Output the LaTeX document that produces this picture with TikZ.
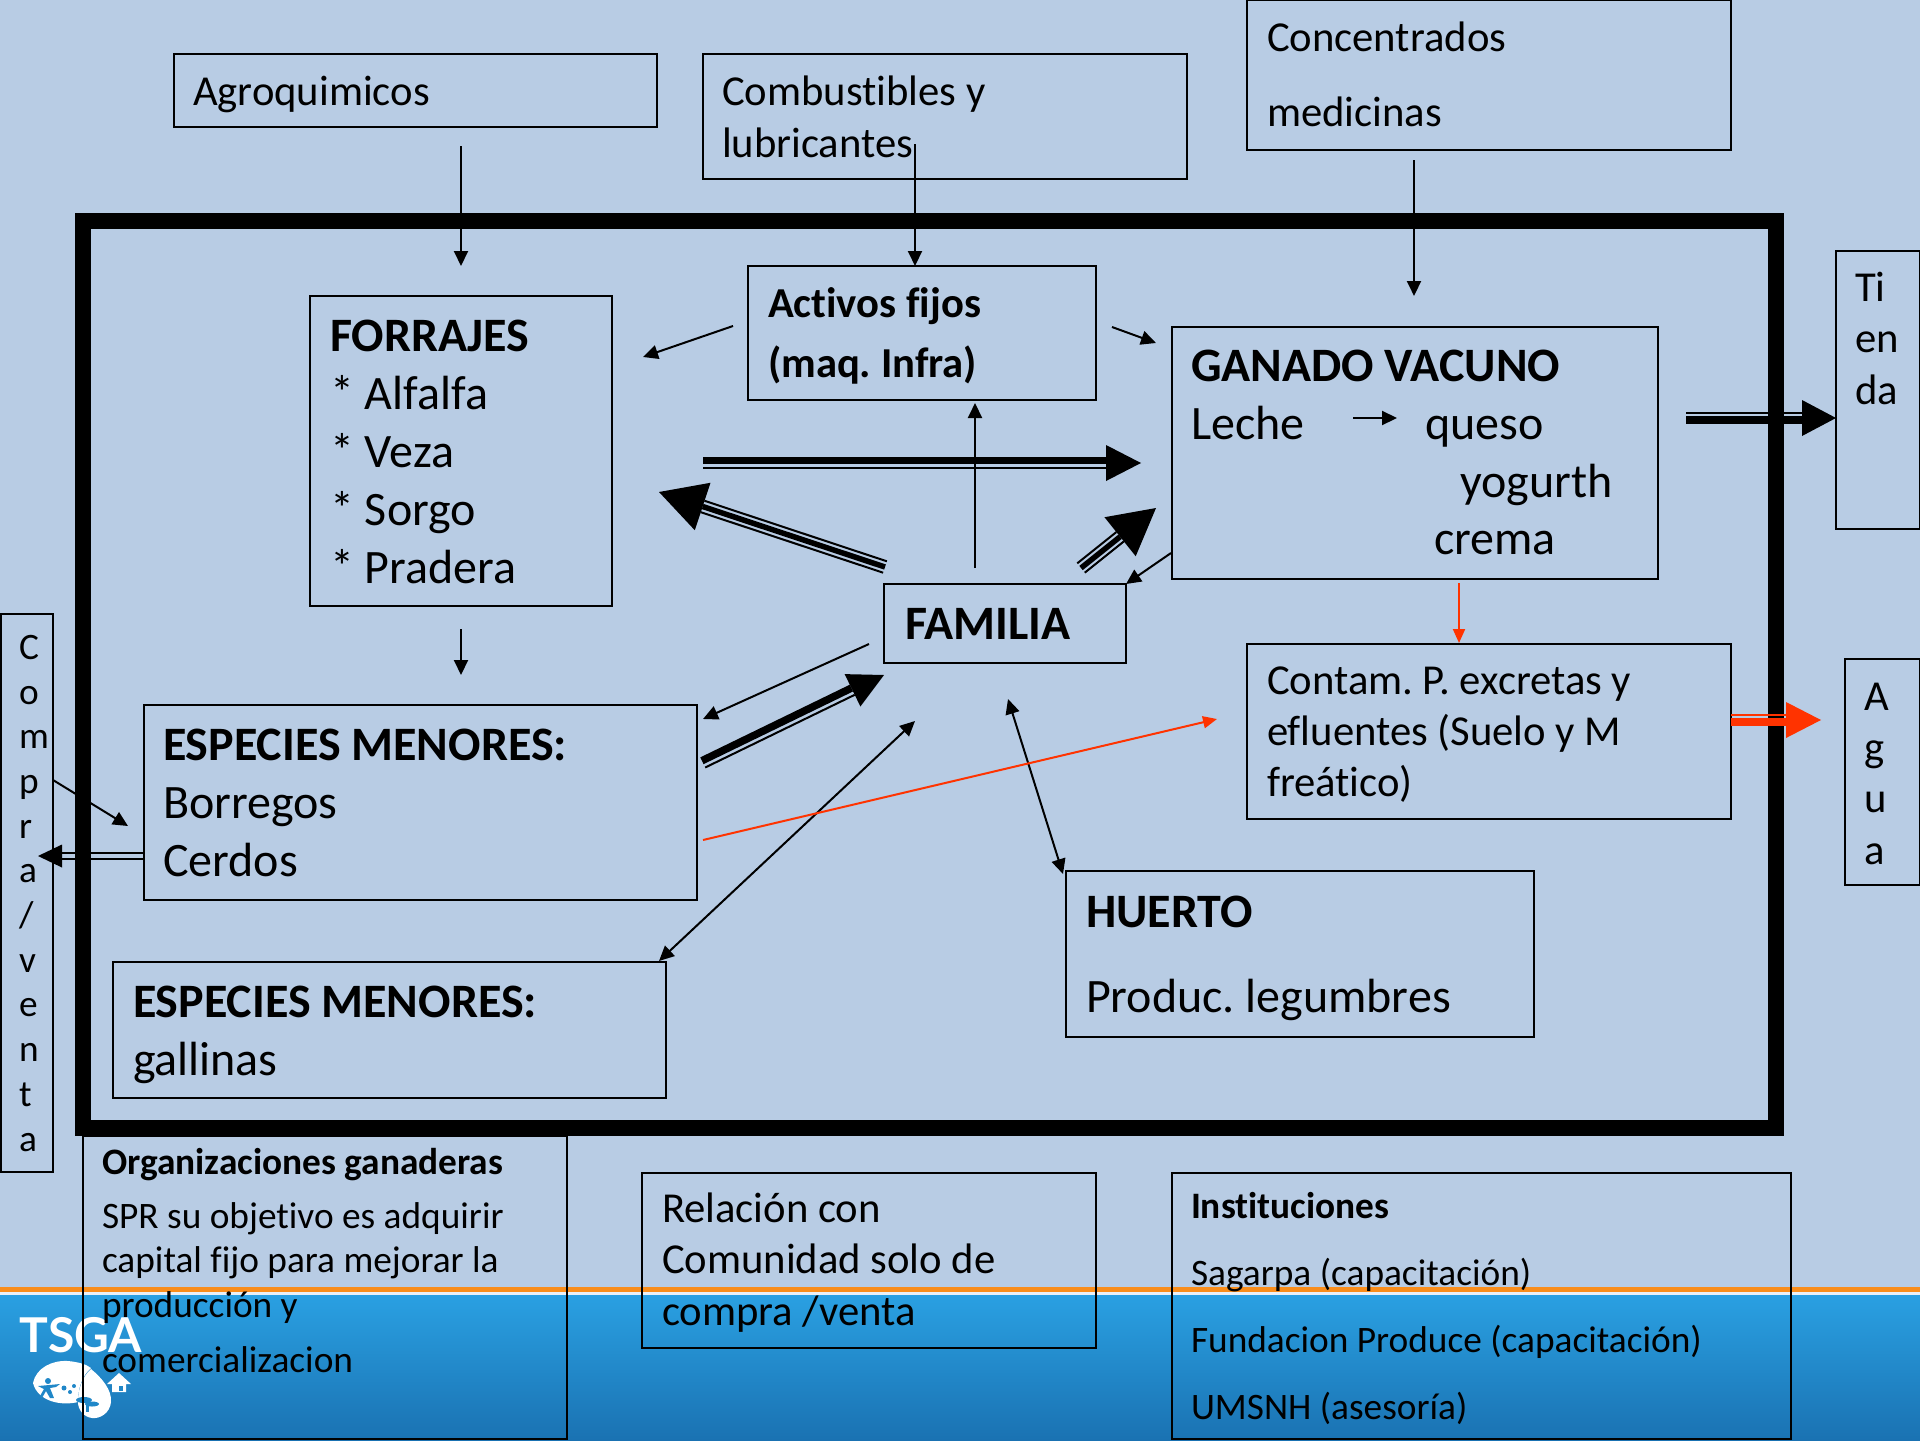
\documentclass[tikz,border=0pt]{standalone}
\usepackage{fontspec}
\setmainfont{Carlito}[Ligatures=NoCommon]
\newfontfamily\logofont{Lato}
\usetikzlibrary{arrows.meta,calc,fit}
\definecolor{slidebg}{HTML}{B8CCE4}
\definecolor{redline}{HTML}{FF3300}
\definecolor{orangeline}{HTML}{F98D1B}
\definecolor{bandtop}{HTML}{2AA0E2}
\definecolor{bandbot}{HTML}{1A72B2}
\definecolor{logocut}{HTML}{2087C8}
\tikzset{
  boxn/.style={draw=black,line width=1pt,inner sep=0pt,outer sep=0pt},
  txt/.style={inner sep=0pt,outer sep=0pt,anchor=base west,align=left,text=black,execute at begin node=\frenchspacing},
  thinarr/.style={line width=1pt,-{Triangle[length=7.5pt,width=7pt]}},
  botharr/.style={line width=1pt,{Triangle[length=7.5pt,width=7pt]}-{Triangle[length=7.5pt,width=7pt]}},
  redarr/.style={line width=1pt,draw=redline,-{Triangle[length=7pt,width=6pt]},redline},
  fxxiv/.style={font=\fontsize{24}{29}\selectfont},
  fxxi/.style={font=\fontsize{21.33}{25.6}\selectfont},
}
% from, to, colour, head length (pt), head half width (pt), list of offset/width (pt)
\newcommand\bigarrow[6]{%
  \coordinate (tmpB) at ($(#2)!#4pt!(#1)$);
  \foreach \o/\w in {#6}{%
    \draw[#3,line width=\w pt] ($(#1)!\o pt!90:(#2)$) -- ($(tmpB)!\o pt!-90:(#1)$);
  }
  \fill[#3] (#2) -- ($(tmpB)!#5pt!90:(#2)$) -- ($(tmpB)!#5pt!-90:(#2)$) -- cycle;
}
\newcommand\boxat[5]{\node[boxn,fit={(#2,#3)(#4,#5)}] (#1) {};}
\begin{document}
\begin{tikzpicture}[x=0.5pt,y=-0.5pt]
\useasboundingbox (0,0) rectangle (1920,1440);
\fill[slidebg] (0,0) rectangle (1920,1440);
% footer band
\shade[top color=bandtop,bottom color=bandbot] (0,1295) rectangle (1920,1440);
\fill[white!70!slidebg] (0,1292) rectangle (1920,1295);
\fill[orangeline] (0,1287) rectangle (1920,1292);
% logo
\node[inner sep=0pt,anchor=base west,text=white] (logotext) at (19,1352) {\logofont\bfseries\fontsize{24}{26}\selectfont TSGA};
\fill[white] (33,1383) .. controls (36,1368) and (52,1360) .. (68,1361) .. controls (78,1362) and (86,1364) .. (91,1368) .. controls (82,1376) and (78,1388) .. (78,1402) .. controls (62,1406) and (38,1402) .. (33,1383) -- cycle;
\fill[white] (91,1369) .. controls (102,1378) and (112,1390) .. (111,1402) .. controls (110,1413) and (100,1419) .. (92,1418) .. controls (84,1417) and (78,1410) .. (78,1402) .. controls (78,1388) and (83,1376) .. (91,1369) -- cycle;
\fill[white] (107,1384) -- (119,1373) -- (131,1384) -- (126,1384) -- (126,1392) -- (112,1392) -- (112,1384) -- cycle;
\fill[logocut] (119,1386) rectangle (123,1391);
\fill[logocut] (48,1381) circle (3) (38,1386) -- (60,1384) -- (56,1387) -- (50,1388) -- (54,1398) -- (50,1398) -- (46,1391) -- (42,1398) -- (40,1396) -- (44,1389) -- cycle;
\fill[logocut] (64,1388) circle (2.5) (70,1392) circle (2) (74,1386) circle (2);
\fill[logocut] (84,1400) ellipse [x radius=8,y radius=3];
\fill[logocut] (86,1400) rectangle (89,1412);
\fill[logocut] (92,1404) ellipse [x radius=7,y radius=2.5];

% free ends of the connectors
\coordinate (a1s) at (461,146);  \coordinate (a1e) at (461,266);
\coordinate (a2s) at (915,144);  \coordinate (a2e) at (915,266);
\coordinate (a3s) at (1414,160); \coordinate (a3e) at (1414,296);
\coordinate (a4s) at (733,326);  \coordinate (a4e) at (643,357);
\coordinate (a5s) at (1112,327); \coordinate (a5e) at (1156,343);
\coordinate (a6s) at (975,568);  \coordinate (a6e) at (975,403);
\coordinate (a7s) at (869,644);  \coordinate (a7e) at (703,719);
\coordinate (a8s) at (1171,553);
\coordinate (a9s) at (915,721);  \coordinate (a9e) at (659,961);
\coordinate (a10s) at (1008,699);\coordinate (a10e) at (1063,874);
\coordinate (a11s) at (461,629); \coordinate (a11e) at (461,675);
\coordinate (a12s) at (53,780);  \coordinate (a12e) at (128,826);
\coordinate (leches) at (1353,418); \coordinate (lechee) at (1397,418);
\coordinate (r1s) at (1459,583); \coordinate (r1e) at (1459,643);
\coordinate (r2s) at (703,840);  \coordinate (r2e) at (1217,719);
\coordinate (d1s) at (703,463);  \coordinate (d1e) at (1141,463);
\coordinate (d2s) at (885,567);  \coordinate (d2e) at (659,492);
\coordinate (d3s) at (1081,568); \coordinate (d3e) at (1156,508);
\coordinate (d4s) at (703,763);  \coordinate (d4e) at (884,675);
\coordinate (d5s) at (1686,418); \coordinate (d5e) at (1836,418);
\coordinate (d6s) at (1731,720); \coordinate (d6e) at (1821,720);
\coordinate (d7s) at (143,856);  \coordinate (d7e) at (38,856);

% connector passing behind the thick frame
\draw[thinarr] (a12s) -- (a12e);

% thick frame
\node[draw=black,line width=8pt,inner sep=0pt,outer sep=0pt,fit={(83,221)(1776,1128)}] (frame) {};

% boxes
\boxat{agro}{174}{54}{657}{127}
\boxat{combus}{703}{54}{1187}{179}
\boxat{concen}{1247}{0}{1731}{150}
\boxat{forrajes}{310}{296}{612}{606}
\boxat{activos}{748}{266}{1096}{400}
\boxat{ganado}{1172}{327}{1658}{579}
\boxat{familia}{884}{584}{1126}{663}
\boxat{espa}{144}{705}{697}{900}
\boxat{espb}{113}{962}{666}{1098}
\boxat{contam}{1247}{644}{1731}{819}
\boxat{huerto}{1066}{871}{1534}{1037}
\boxat{compra}{1}{614}{53}{1172}
\boxat{tienda}{1836}{251}{1920}{529}
\boxat{agua}{1845}{659}{1920}{885}
\boxat{org}{83}{1136}{567}{1439}
\boxat{relacion}{642}{1173}{1096}{1348}
\boxat{instit}{1172}{1173}{1791}{1439}

% texts (the anchor is the base of the last line)
\node[txt,fxxi] (agrot) at (193,105) {Agroquimicos};
\node[txt,fxxi] (combust) at (722,157) {Combustibles y\\lubricantes};
\node[txt,font=\fontsize{21.33}{37.5}\selectfont] (concent) at (1267,126) {Concentrados\\medicinas};
\node[txt,fxxiv] (forrajest) at (330,583) {\textbf{FORRAJES}\\\makebox[17.5pt][l]{*}Alfalfa\\\makebox[17.5pt][l]{*}Veza\\\makebox[17.5pt][l]{*}Sorgo\\\makebox[17.5pt][l]{*}Pradera};
\node[txt,font=\bfseries\fontsize{21.33}{30}\selectfont] (activost) at (768,377) {Activos fijos\\(maq. Infra)};
\node[txt,fxxiv] (ganadot) at (1191,439) {\textbf{GANADO VACUNO}\\Leche};
\node[txt,fxxiv] (quesot) at (1425,439) {queso};
\node[txt,fxxiv] (yogt) at (1460,497) {yogurth};
\node[txt,fxxiv] (cremat) at (1434,554) {crema};
\node[txt,fxxiv] (familiat) at (905,639) {\textbf{FAMILIA}};
\node[txt,fxxiv] (espat) at (163,876) {\textbf{ESPECIES MENORES:}\\Borregos\\Cerdos};
\node[txt,fxxiv] (espbt) at (133,1075) {\textbf{ESPECIES MENORES:}\\gallinas};
\node[txt,font=\fontsize{21.33}{25.4}\selectfont] (contamt) at (1267,796) {Contam. P. excretas y\\efluentes (Suelo y M\\freático)};
\node[txt,font=\fontsize{24}{42.5}\selectfont] (huertot) at (1086,1012) {\textbf{HUERTO}\\Produc. legumbres};
\node[txt,font=\fontsize{18.67}{22.35}\selectfont] (comprat) at (19,1151) {C\\o\\m\\p\\r\\a\\/\\v\\e\\n\\t\\a};
\node[txt,fxxi] (tiendat) at (1855,404) {Ti\\en\\da};
\node[txt,fxxi] (aguat) at (1864,864) {A\\g\\u\\a};
\node[txt,font=\fontsize{18.67}{22.3}\selectfont] (orgt) at (102,1372) {\textbf{Organizaciones ganaderas}\\[4.5pt]SPR su objetivo es adquirir\\capital fijo para mejorar la\\producción y\\[5pt]comercializacion};
\node[txt,fxxi] (relaciont) at (662,1325) {Relación con\\Comunidad solo de\\compra /venta};
\node[txt,font=\fontsize{18.67}{33.5}\selectfont] (instt) at (1191,1419) {\textbf{Instituciones}\\Sagarpa (capacitación)\\Fundacion Produce (capacitación)\\UMSNH (asesoría)};

% thin connectors
\draw[thinarr] (a1s) -- (a1e);
\draw[thinarr] (a2s) -- (a2e);
\draw[thinarr] (a3s) -- (a3e);
\draw[thinarr] (a4s) -- (a4e);
\draw[thinarr] (a5s) -- (a5e);
\draw[thinarr] (a6s) -- (a6e);
\draw[thinarr] (a7s) -- (a7e);
\draw[thinarr] (a8s) -- (familia.north east);
\draw[botharr] (a9s) -- (a9e);
\draw[botharr] (a10s) -- (a10e);
\draw[thinarr] (a11s) -- (a11e);
\draw[thinarr] (leches) -- (lechee);
\draw[redarr] (r1s) -- (r1e);
\draw[redarr] (r2s) -- (r2e);

% block arrows
\bigarrow{d1s}{d1e}{black}{17.5}{9}{1.25/3.75,-2.5/1}
\bigarrow{d2s}{d2e}{black}{23}{12.5}{0/2.75,3/1,-3/1}
\bigarrow{d3s}{d3e}{black}{23}{12.5}{0/2.75,3/1,-3/1}
\bigarrow{d4s}{d4e}{black}{17.5}{9}{1.25/3.75,-2.5/1}
\bigarrow{d5s}{d5e}{black}{17}{9}{2.5/1,-1/3.75}
\bigarrow{d6s}{d6e}{redline}{17.5}{9}{2.75/1,-1.1/3.75}
\bigarrow{d7s}{d7e}{black}{12}{5.75}{1.5/1.25,-1.5/1.25}
\end{tikzpicture}
\end{document}
